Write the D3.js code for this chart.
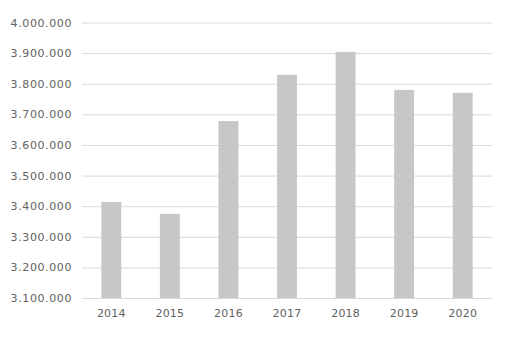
<!DOCTYPE html>
<html>
<head>
<meta charset="utf-8">
<script src="https://cdn.jsdelivr.net/npm/d3@7"></script>
<style>
  body { margin: 0; background: #fff; }
  text { font-family: "DejaVu Sans", sans-serif; }
</style>
</head>
<body>
<div id="chart"></div>
<script>
const years = ["2014", "2015", "2016", "2017", "2018", "2019", "2020"];
const values = [3414000, 3375000, 3678000, 3829000, 3904000, 3780000, 3770000];
const yTicks = [3100000, 3200000, 3300000, 3400000, 3500000, 3600000, 3700000, 3800000, 3900000, 4000000];

const width = 506, height = 346;
const margin = {top: 22.5, right: 14, bottom: 48, left: 82};

const svg = d3.select("#chart").append("svg")
    .attr("width", width)
    .attr("height", height);

const x = d3.scaleBand().domain(years)
    .range([margin.left, width - margin.right])
    .paddingInner(0.66).paddingOuter(0.33);
const y = d3.scaleLinear().domain([3100000, 4000000])
    .range([height - margin.bottom, margin.top]);

const fmt = d => d3.format(",")(d).replace(/,/g, ".");

// gridlines + y labels
const yAxis = svg.append("g")
    .attr("transform", `translate(${margin.left},0)`)
    .call(d3.axisLeft(y).tickValues(yTicks).tickFormat(fmt)
        .tickSize(-(width - margin.left - margin.right)).tickPadding(10));
yAxis.select(".domain").remove();
yAxis.selectAll("line").attr("stroke", "#d9d9d9").attr("stroke-width", 1);
yAxis.selectAll("text")
    .attr("fill", "#626262").style("font-size", "11px").style("letter-spacing", "0.6px");

svg.selectAll(".bar")
    .data(values)
    .enter()
    .append("rect")
    .attr("x", (d, i) => x(years[i]))
    .attr("y", d => y(d))
    .attr("width", x.bandwidth())
    .attr("height", d => y(3100000) - y(d))
    .attr("fill", "#c6c7c8");

const xAxis = svg.append("g")
    .attr("transform", `translate(0,${height - margin.bottom})`)
    .call(d3.axisBottom(x).tickSize(0).tickPadding(11));
xAxis.select(".domain").remove();
xAxis.selectAll("text")
    .attr("fill", "#626262").style("font-size", "11px").style("letter-spacing", "0.2px");
</script>
</body>
</html>
